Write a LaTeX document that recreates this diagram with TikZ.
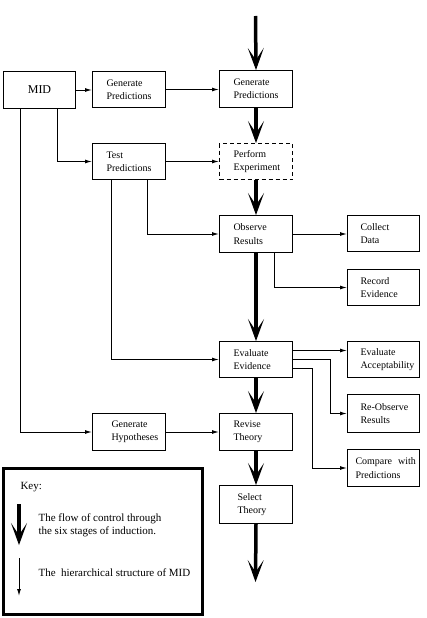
\documentclass[tikz,border=0pt]{standalone}
\usepackage{fontspec}
\setmainfont{Liberation Serif}
\usetikzlibrary{arrows.meta}
\begin{document}
\begin{tikzpicture}[x=1pt,y=-1pt,
 box/.style={draw,line width=1pt,anchor=north west,minimum width=73pt,minimum height=37pt,
   inner xsep=14pt,inner ysep=2pt,text width=45pt,align=left,font=\fontsize{10}{13.3}\selectfont},
 sidebox/.style={box,minimum width=72pt,inner xsep=13pt,text width=46pt},
 flow/.style={line width=3.5pt,-{Stealth[length=22pt,width=16pt,inset=12pt,line width=1pt]}},
 hier/.style={line width=1pt,-{Latex[length=7pt,width=4pt]}},
 keytext/.style={anchor=west,align=left,font=\fontsize{11}{13}\selectfont},
]
\useasboundingbox (0,0) rectangle (427,618);

% boxes
\node[box,minimum width=72pt,text width=44pt,align=center,font=\fontsize{12}{14}\selectfont] (mid) at (3,71) {MID};
\node[box,minimum height=36pt] (gp1) at (92,71) {Generate\\Predictions};
\node[box] (gp2) at (219,70) {Generate\\Predictions};
\node[box,minimum height=36pt] (test) at (92,143) {Test\\Predictions};
\node[box,minimum height=36pt,dash pattern=on 4pt off 3pt] (perf) at (219,143) {Perform\\Experiment};
\node[box] (obs) at (219,215) {Observe\\Results};
\node[sidebox,minimum height=36pt] (coll) at (347,215) {Collect\\Data};
\node[sidebox,minimum height=36pt] (rec) at (347,269) {Record\\Evidence};
\node[box,minimum height=36pt] (eval) at (219,341) {Evaluate\\Evidence};
\node[sidebox,minimum height=36pt] (acc) at (347,341) {Evaluate\\\mbox{Acceptability}};
\node[sidebox,minimum height=38pt] (reobs) at (347,394) {\mbox{Re-Observe}\\Results};
\node[box,inner xsep=19pt,text width=35pt] (hyp) at (92,413) {Generate\\\mbox{Hypotheses}};
\node[box] (rev) at (219,413) {Revise\\Theory};
\node[sidebox,inner xsep=8pt,text width=56pt] (comp) at (347,449) {\mbox{Compare\hspace{6pt}with}\\Predictions};
\node[box,minimum height=38pt,inner xsep=18pt,text width=37pt] (sel) at (219,485) {Select\\Theory};

% hierarchical connectors
\draw[hier] (mid.east) -- (mid.east -| gp1.west);
\draw[hier] (gp1.east) -- (gp1.east -| gp2.west);
\draw[hier] ([xshift=18pt]mid.south) |- (test.west);
\draw[hier] ([xshift=-19pt]mid.south) |- (hyp.west);
\draw[hier] (test.east) -- (test.east -| perf.west);
\draw[hier] ([xshift=18.5pt]test.south) |- (obs.west);
\draw[hier] ([xshift=-17.5pt]test.south) |- (eval.west);
\draw[hier] (obs.east) -- (obs.east -| coll.west);
\draw[hier] ([xshift=18.5pt]obs.south) |- (rec.west);
\draw[hier] ([yshift=9pt]eval.east) -- ([yshift=9pt]eval.east -| acc.west);
\draw[hier] (eval.east) -- ++(37,0) |- (reobs.west);
\draw[hier] ([yshift=-9pt]eval.east) -- ++(19,0) |- (comp.west);
\draw[hier] (hyp.east) -- (hyp.east -| rev.west);

% flow of control
\coordinate (top) at (255.5,16);
\coordinate (bot) at (255.5,582);
\draw[flow] (top) -- (gp2.north);
\draw[flow] (gp2.south) -- (perf.north);
\draw[flow] (perf.south) -- (obs.north);
\draw[flow] (obs.south) -- (eval.north);
\draw[flow] (eval.south) -- (rev.north);
\draw[flow] (rev.south) -- (sel.north);
\draw[flow] (sel.south) -- (bot);

% key
\node[draw,line width=2.5pt,anchor=north west,minimum width=199pt,minimum height=146pt,inner sep=0pt] (key) at (2,467) {};
\node[keytext] (keyt) at (17,487) {Key:};
\coordinate (k1a) at (19,504);
\coordinate (k1b) at (19,545);
\draw[flow] (k1a) -- (k1b);
\node[keytext] (kt1) at (35,525) {The flow of control through\\the six stages of induction.};
\coordinate (k2a) at (19,558);
\coordinate (k2b) at (19,596);
\draw[hier] (k2a) -- (k2b);
\node[keytext] (kt2) at (35,573) {The~~hierarchical structure of MID};
\end{tikzpicture}
\end{document}
